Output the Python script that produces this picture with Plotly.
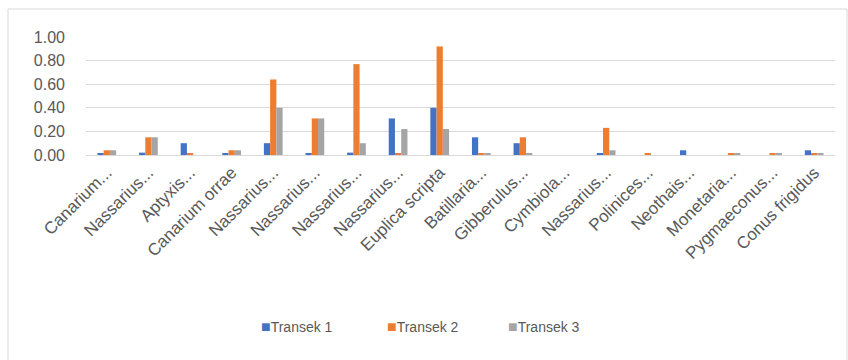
import plotly.graph_objects as go

labels = ["Canarium...", "Nassarius...", "Aptyxis...", "Canarium orrae", "Nassarius...",
          "Nassarius...", "Nassarius...", "Nassarius...", "Euplica scripta", "Batillaria...",
          "Gibberulus...", "Cymbiola...", "Nassarius...", "Polinices...", "Neothais...",
          "Monetaria...", "Pygmaeconus...", "Conus frigidus"]
transek1 = [0.01, 0.02, 0.10, 0.01, 0.10, 0.01, 0.02, 0.31, 0.40, 0.15, 0.10, 0.0, 0.01, 0.0, 0.04, 0.0, 0.0, 0.04]
transek2 = [0.04, 0.15, 0.01, 0.04, 0.64, 0.31, 0.77, 0.01, 0.92, 0.01, 0.15, 0.0, 0.23, 0.01, 0.0, 0.01, 0.01, 0.01]
transek3 = [0.04, 0.15, 0.0, 0.04, 0.40, 0.31, 0.10, 0.22, 0.22, 0.01, 0.01, 0.0, 0.04, 0.0, 0.0, 0.01, 0.01, 0.01]
series_names = ["Transek 1", "Transek 2", "Transek 3"]
colors = ["#4472C4", "#ED7D31", "#A5A5A5"]

x = list(range(len(labels)))
fig = go.Figure()
for name, vals, c in zip(series_names, [transek1, transek2, transek3], colors):
    fig.add_trace(go.Bar(x=x, y=vals, name=name, marker_color=c, marker_line_width=0,
                         showlegend=False))

W, H = 848, 360
L, R, T, B = 86, 13, 37, 205
pw, ph = W - L - R, H - T - B
FONT = "Liberation Sans, Arial, sans-serif"

fig.update_layout(
    width=W, height=H,
    margin=dict(l=L, r=R, t=T, b=B),
    paper_bgcolor="white", plot_bgcolor="white",
    barmode="group", bargap=0.55, bargroupgap=0,
    font=dict(family=FONT, color="#595959", size=15),
    xaxis=dict(tickmode="array", tickvals=x, ticktext=labels, tickangle=-45,
               range=[-0.5, len(labels) - 0.5], showgrid=False, showline=True,
               linecolor="#d9d9d9", linewidth=1, ticks="", tickfont=dict(size=17)),
    yaxis=dict(range=[0, 1.0], dtick=0.2, tickformat=".2f", showgrid=True,
               gridcolor="#d9d9d9", zeroline=False, showline=False, ticks="",
               tickfont=dict(size=16), ticklabelstandoff=20),
    showlegend=False,
)

# legend as text annotations
legend_x = [259, 385, 506]
for name, c, lx in zip(series_names, colors, legend_x):
    fig.add_annotation(xref="paper", yref="paper",
                       x=(lx - L) / pw, y=(T + ph - 327) / ph,
                       xanchor="left", yanchor="middle", showarrow=False,
                       text=f"<span style='color:{c};font-size:16px'>■</span>{name}",
                       font=dict(family=FONT, size=14, color="#595959"))

fig.add_shape(type="rect", xref="paper", yref="paper",
              x0=(8 - L) / pw, x1=(847 - L) / pw,
              y0=(T + ph - 362) / ph, y1=(T + ph - 9) / ph,
              line=dict(color="#d9d9d9", width=1), fillcolor="rgba(0,0,0,0)", layer="below")
fig.write_html("out.html")
